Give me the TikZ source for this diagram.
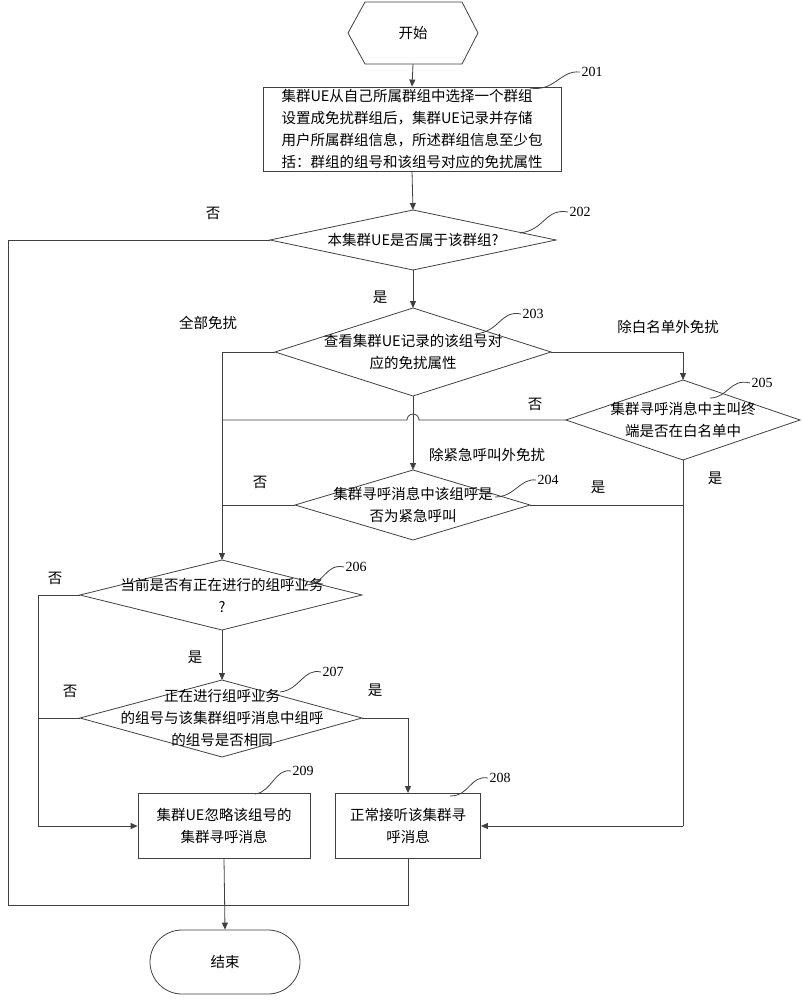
\documentclass[tikz,border=0pt]{standalone}
\usepackage{fontspec}
\setmainfont{Liberation Serif}
\newfontfamily\cjk{Noto Sans CJK SC}
\usetikzlibrary{arrows.meta}
\begin{document}
\begin{tikzpicture}[x=1pt,y=-1pt,
  line width=0.8pt, draw=black!75,
  txt/.style={font=\cjk\fontsize{14.5}{22}\selectfont, align=center, inner sep=0},
  lbl/.style={font=\fontsize{14}{16}\selectfont, inner sep=1},
  arr/.style={-{Triangle[length=7pt,width=6pt]}},
  shp/.style={draw=black!75, line width=0.8pt}]
\useasboundingbox (0,0) rectangle (802,1000);
% start
\draw[shp] (348,33) -- (365,2) -- (462,2) -- (478,33) -- (462,64) -- (365,64) -- cycle;
\node[txt] (start) at (413,33) {开始};
\coordinate (startb) at (413,64);
% 201
\node[shp, minimum width=298, minimum height=84, inner sep=0] (b201) at (412,129) {};
\node[txt, align=left] at (412,129) {集群UE从自己所属群组中选择一个群组\\设置成免扰群组后，集群UE记录并存储\\用户所属群组信息，所述群组信息至少包\\括：群组的组号和该组号对应的免扰属性};
% diamonds
\draw[shp] (270,240) coordinate (d202l) -- (413,210) coordinate (d202t) -- (556,240) -- (413,270) coordinate (d202b) -- cycle;
\node[txt] (t202) at (413,240) {本集群UE是否属于该群组?};
\draw[shp] (275,352) coordinate (d203l) -- (413,308) coordinate (d203t) -- (551,352) coordinate (d203r) -- (413,396) coordinate (d203b) -- cycle;
\node[txt] (t203) at (413,352) {查看集群UE记录的该组号对\\应的免扰属性};
\draw[shp] (566,420) coordinate (d205l) -- (683,380) coordinate (d205t) -- (800,420) -- (683,460) coordinate (d205b) -- cycle;
\node[txt] (t205) at (683,420) {集群寻呼消息中主叫终\\端是否在白名单中};
\draw[shp] (295,505) coordinate (d204l) -- (413,470) coordinate (d204t) -- (530,505) coordinate (d204r) -- (413,540) -- cycle;
\node[txt] (t204) at (413,505) {集群寻呼消息中该组呼是\\否为紧急呼叫};
\draw[shp] (80,595) coordinate (d206l) -- (222,560) coordinate (d206t) -- (362,595) -- (222,630) coordinate (d206b) -- cycle;
\node[txt] (t206) at (222,595) {当前是否有正在进行的组呼业务\\?};
\draw[shp] (80,718) coordinate (d207l) -- (222,680) coordinate (d207t) -- (362,718) coordinate (d207r) -- (222,757) -- cycle;
\node[txt] (t207) at (222,718) {正在进行组呼业务\\的组号与该集群组呼消息中组呼\\的组号是否相同};
% boxes
\node[shp, minimum width=172, minimum height=65, inner sep=0] (b209) at (224,826) {};
\node[txt] at (224,826) {集群UE忽略该组号的\\集群寻呼消息};
\node[shp, minimum width=145, minimum height=65, inner sep=0] (b208) at (408,826) {};
\node[txt] at (408,826) {正常接听该集群寻\\呼消息};
\node[shp, rounded corners=32, minimum width=150, minimum height=64, inner sep=0] (end) at (225,962) {};
\node[txt] at (225,962) {结束};
% number labels with leaders
\node[lbl] (n201) at (592,72) {201};
\draw (n201.west) .. controls (560,70) and (555,92) .. (530,88);
\node[lbl] (n202) at (580,212) {202};
\draw (n202.west) .. controls (545,208) and (545,230) .. (520,233);
\node[lbl] (n203) at (533,314) {203};
\draw (n203.west) .. controls (500,310) and (500,332) .. (475,334);
\node[lbl] (n205) at (762,383) {205};
\draw (n205.west) .. controls (730,378) and (728,398) .. (710,398);
\node[lbl] (n204) at (548,480) {204};
\draw (n204.west) .. controls (520,478) and (515,497) .. (495,497);
\node[lbl] (n206) at (356,567) {206};
\draw (n206.west) .. controls (325,563) and (325,585) .. (305,585);
\node[lbl] (n207) at (333,672) {207};
\draw (n207.west) .. controls (303,668) and (300,690) .. (280,692);
\node[lbl] (n209) at (303,771) {209};
\draw (n209.west) .. controls (275,768) and (272,792) .. (255,794);
\node[lbl] (n208) at (500,778) {208};
\draw (n208.west) .. controls (470,775) and (470,796) .. (450,796);
% connectors
\draw[arr] (startb) -- (b201.north);
\draw[arr] (b201.south) -- (d202t);
\draw[arr] (d202b) -- (d203t);
\draw[arr] (d203l) -- (222,352) -- (d206t);
\draw[arr] (d203r) -- (683,352) -- (d205t);
\draw[arr] (d203b) -- (d204t);
\draw (d205l) -- (419,420) arc (0:-180:6) -- (222,420);
\draw (d205b) -- (683,826) coordinate (c5);
\draw[arr] (c5) -- (b208.east);
\draw (d204l) -- (222,505);
\draw (d204r) -- (683,505);
\draw[arr] (d206b) -- (d207t);
\draw (d206l) -- (38,595) -- (38,826) coordinate (c6);
\draw[arr] (c6) -- (b209.west);
\draw (d207l) -- (38,718);
\draw[arr] (d207r) -- (408,718) -- (b208.north);
\draw (d202l) -- (8,240) -- (8,905) -- (225,905);
\draw (b208.south) -- (408,905) -- (225,905);
\draw[arr] (b209.south) -- (end.north);
% yes/no
\node[txt] at (213,213) {否};
\node[txt] at (380,297) {是};
\node[txt] at (208,323) {全部免扰};
\node[txt] at (668,327) {除白名单外免扰};
\node[txt] at (535,404) {否};
\node[txt] at (715,478) {是};
\node[txt] at (487,455) {除紧急呼叫外免扰};
\node[txt] at (260,482) {否};
\node[txt] at (598,487) {是};
\node[txt] at (55,578) {否};
\node[txt] at (195,657) {是};
\node[txt] at (70,691) {否};
\node[txt] at (375,690) {是};
\end{tikzpicture}
\end{document}
